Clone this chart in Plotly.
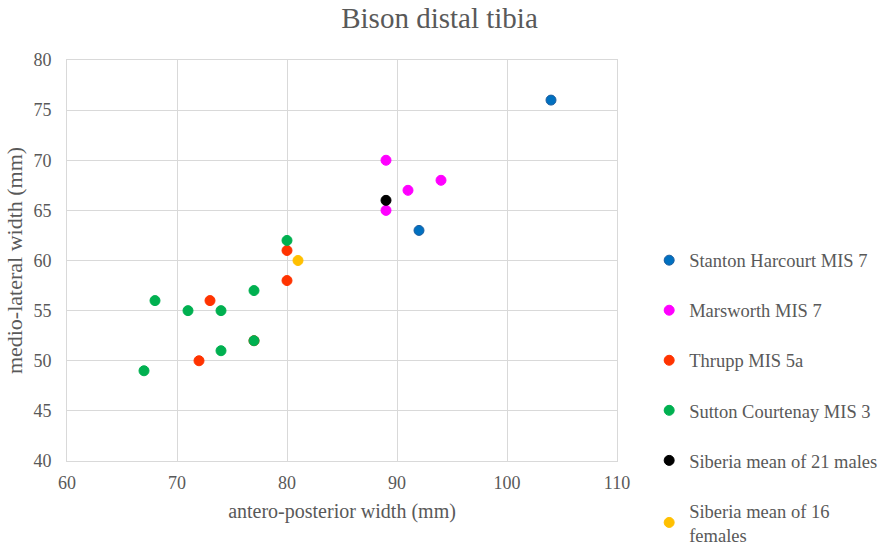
import plotly.graph_objects as go

series_names = ["Stanton Harcourt MIS 7", "Marsworth MIS 7", "Thrupp MIS 5a",
                "Sutton Courtenay MIS 3", "Siberia mean of 21 males",
                "Siberia mean of 16<br>females"]
stanton_x = [104, 92]
stanton_y = [76, 63]
marsworth_x = [89, 91, 94, 89]
marsworth_y = [70, 67, 68, 65]
thrupp_x = [80, 80, 73, 72, 77]
thrupp_y = [61, 58, 56, 50, 52]
sutton_x = [80, 77, 68, 71, 74, 77, 74, 67]
sutton_y = [62, 57, 56, 55, 55, 52, 51, 49]
males_x = [89]
males_y = [66]
females_x = [81]
females_y = [60]

colors = ["#0070C0", "#FF00FF", "#FF3300", "#00B050", "#000000", "#FFC000"]
borders = ["#1F5FA0", "#FF00FF", "#FF3300", "#00B050", "#000000", "#FFC000"]
data = [(stanton_x, stanton_y), (marsworth_x, marsworth_y), (thrupp_x, thrupp_y),
        (sutton_x, sutton_y), (males_x, males_y), (females_x, females_y)]

font_family = "Liberation Serif, Times New Roman, serif"
fig = go.Figure()
for i, (name, (xs, ys)) in enumerate(zip(series_names, data)):
    fig.add_trace(go.Scatter(
        x=xs, y=ys, mode="markers", name=name, legendgroup=str(i),
        marker=dict(size=10, color=colors[i], line=dict(color=borders[i], width=1)),
    ))

fig.update_layout(
    width=879, height=545,
    margin=dict(l=67, r=262, t=60, b=84, autoexpand=False),
    paper_bgcolor="white", plot_bgcolor="white",
    font=dict(family=font_family, size=18, color="#595959"),
    title=dict(text="Bison distal tibia", x=0.5, xref="container", xanchor="center",
               y=0.967, yanchor="middle", font=dict(size=29, color="#595959", family=font_family)),
    xaxis=dict(range=[60, 110], dtick=10, tick0=60, showgrid=True, gridcolor="#D9D9D9",
               gridwidth=1, zeroline=False, showline=True, linecolor="#D9D9D9", mirror=True,
               ticks="", ticklabelstandoff=5,
               title=dict(text="antero-posterior width (mm)", standoff=12,
                          font=dict(size=20, family=font_family, color="#595959")),
               tickfont=dict(size=18, color="#595959")),
    yaxis=dict(range=[40, 80], dtick=5, tick0=40, showgrid=True, gridcolor="#D9D9D9",
               gridwidth=1, zeroline=False, showline=True, linecolor="#D9D9D9", mirror=True,
               ticks="", ticklabelstandoff=11,
               title=dict(text="medio-lateral width (mm)", standoff=4,
                          font=dict(size=22, family=font_family, color="#595959")),
               tickfont=dict(size=18, color="#595959")),
    legend=dict(x=1.0585, y=0.547, xanchor="left", yanchor="top", traceorder="grouped",
                tracegroupgap=23, font=dict(size=18.5, color="#595959", family=font_family),
                itemwidth=30, bgcolor="rgba(0,0,0,0)"),
    showlegend=True,
)
fig.write_html("out.html", config={"displayModeBar": False},
               post_script="document.body.style.margin='0';document.body.style.overflow='hidden';")
